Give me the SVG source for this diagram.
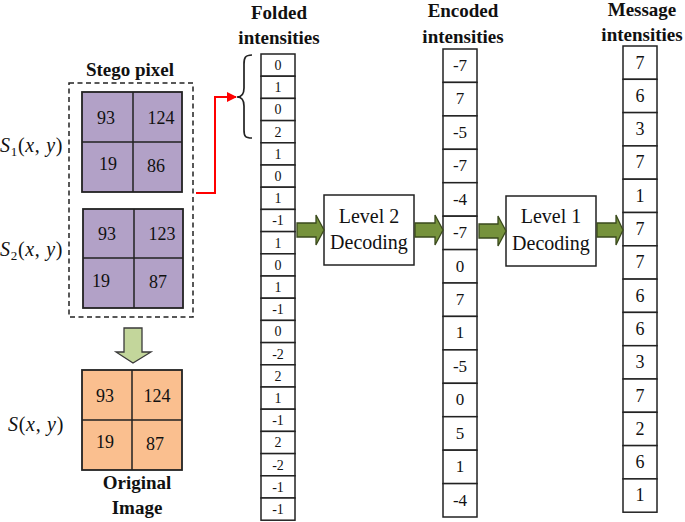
<svg xmlns="http://www.w3.org/2000/svg" width="685" height="522" viewBox="0 0 685 522" font-family="'Liberation Serif', 'DejaVu Serif', serif">
<style>
text{font-family:'Liberation Serif','DejaVu Serif',serif;fill:#111}
.title{font-weight:bold;font-size:19px;text-anchor:middle}
.num{font-size:18px;text-anchor:middle}
.f{font-size:14px;text-anchor:middle}
.e{font-size:17px;text-anchor:middle}
.m{font-size:18px;text-anchor:middle}
.box{font-size:20px;text-anchor:middle}
.math{font-size:20px;letter-spacing:0.7px}
.it{font-style:italic}
.cell{fill:#fff;stroke:#222;stroke-width:1.5}
.pur{fill:#b2a1c7;stroke:#222;stroke-width:1.8}
.org{fill:#fabf8f;stroke:#222;stroke-width:1.8}
.grid{stroke:#222;stroke-width:1.5;fill:none}
.garrow{fill:#76923c;stroke:#3a4a1c;stroke-width:1.3}
</style>
<defs>
<marker id="redhead" viewBox="0 0 10 10" refX="9" refY="5" markerWidth="10" markerHeight="10" markerUnits="userSpaceOnUse" orient="auto">
<path d="M0,0 L10,5 L0,10 Z" fill="#ff0000"/>
</marker>
</defs>

<g id="stego">
<text class="title" x="130" y="76">Stego pixel</text>
<rect x="69" y="83" width="124" height="234" fill="none" stroke="#222" stroke-width="1.5" stroke-dasharray="5,3.5"/>
</g>

<g id="s1">
<text class="math" x="0" y="152"><tspan class="it">S</tspan><tspan font-size="13" dy="4">1</tspan><tspan dy="-4">(</tspan><tspan class="it">x</tspan>, <tspan class="it">y</tspan>)</text>
<rect class="pur" x="82" y="92" width="100" height="100"/>
<path class="grid" d="M133,92 V192 M82,142 H182"/>
<text class="num" x="106" y="124">93</text>
<text class="num" x="161" y="124">124</text>
<text class="num" x="108" y="170">19</text>
<text class="num" x="156" y="172">86</text>
</g>

<g id="s2">
<text class="math" x="0" y="256"><tspan class="it">S</tspan><tspan font-size="13" dy="4">2</tspan><tspan dy="-4">(</tspan><tspan class="it">x</tspan>, <tspan class="it">y</tspan>)</text>
<rect class="pur" x="83" y="209" width="100" height="99"/>
<path class="grid" d="M134,209 V308 M83,258 H183"/>
<text class="num" x="107" y="240">93</text>
<text class="num" x="162" y="240">123</text>
<text class="num" x="101" y="287">19</text>
<text class="num" x="158" y="288">87</text>
</g>

<g id="original">
<text class="math" x="8" y="431" letter-spacing="1.2"><tspan class="it">S</tspan>(<tspan class="it">x</tspan>, <tspan class="it">y</tspan>)</text>
<rect class="org" x="82" y="370" width="100" height="100"/>
<path class="grid" d="M132,370 V470 M82,420 H182"/>
<text class="num" x="105" y="402">93</text>
<text class="num" x="157" y="402">124</text>
<text class="num" x="105" y="448">19</text>
<text class="num" x="155" y="450">87</text>
<text class="title" x="137" y="489">Original</text>
<text class="title" x="137" y="514">Image</text>
</g>

<g id="folded">
<text class="title" x="279" y="19">Folded</text>
<text class="title" x="279" y="44">intensities</text>
<g>
<rect class="cell" x="261" y="54" width="34" height="22.2"/><text class="f" x="278" y="70">0</text>
<rect class="cell" x="261" y="76.2" width="34" height="22.2"/><text class="f" x="278" y="92.2">1</text>
<rect class="cell" x="261" y="98.4" width="34" height="22.2"/><text class="f" x="278" y="114.4">0</text>
<rect class="cell" x="261" y="120.6" width="34" height="22.2"/><text class="f" x="278" y="136.6">2</text>
<rect class="cell" x="261" y="142.8" width="34" height="22.2"/><text class="f" x="278" y="158.8">1</text>
<rect class="cell" x="261" y="165" width="34" height="22.2"/><text class="f" x="278" y="181">0</text>
<rect class="cell" x="261" y="187.2" width="34" height="22.2"/><text class="f" x="278" y="203.2">1</text>
<rect class="cell" x="261" y="209.4" width="34" height="22.2"/><text class="f" x="278" y="225.4">-1</text>
<rect class="cell" x="261" y="231.6" width="34" height="22.2"/><text class="f" x="278" y="247.6">1</text>
<rect class="cell" x="261" y="253.8" width="34" height="22.2"/><text class="f" x="278" y="269.8">0</text>
<rect class="cell" x="261" y="276" width="34" height="22.2"/><text class="f" x="278" y="292">1</text>
<rect class="cell" x="261" y="298.2" width="34" height="22.2"/><text class="f" x="278" y="314.2">-1</text>
<rect class="cell" x="261" y="320.4" width="34" height="22.2"/><text class="f" x="278" y="336.4">0</text>
<rect class="cell" x="261" y="342.6" width="34" height="22.2"/><text class="f" x="278" y="358.6">-2</text>
<rect class="cell" x="261" y="364.8" width="34" height="22.2"/><text class="f" x="278" y="380.8">2</text>
<rect class="cell" x="261" y="387" width="34" height="22.2"/><text class="f" x="278" y="403">1</text>
<rect class="cell" x="261" y="409.2" width="34" height="22.2"/><text class="f" x="278" y="425.2">-1</text>
<rect class="cell" x="261" y="431.4" width="34" height="22.2"/><text class="f" x="278" y="447.4">2</text>
<rect class="cell" x="261" y="453.6" width="34" height="22.2"/><text class="f" x="278" y="469.6">-2</text>
<rect class="cell" x="261" y="475.8" width="34" height="22.2"/><text class="f" x="278" y="491.8">-1</text>
<rect class="cell" x="261" y="498" width="34" height="22.2"/><text class="f" x="278" y="514">-1</text>
</g>
<path d="M252,55 C245,55 244,58 244,64 L244,88 C244,94 242,97 237,97 C242,97 244,100 244,106 L244,130 C244,136 245,138 252,138" fill="none" stroke="#222" stroke-width="1.7"/>
</g>

<g id="level2">
<rect x="324" y="195" width="90" height="70" fill="#fff" stroke="#222" stroke-width="1.5"/>
<text class="box" x="369" y="223">Level 2</text>
<text class="box" x="369" y="249">Decoding</text>
</g>

<g id="encoded">
<text class="title" x="463" y="17">Encoded</text>
<text class="title" x="463" y="43">intensities</text>
<rect class="cell" x="443" y="49" width="34" height="33.4"/><text class="e" x="460" y="71">-7</text>
<rect class="cell" x="443" y="82.4" width="34" height="33.4"/><text class="e" x="460" y="104.4">7</text>
<rect class="cell" x="443" y="115.9" width="34" height="33.4"/><text class="e" x="460" y="137.9">-5</text>
<rect class="cell" x="443" y="149.3" width="34" height="33.4"/><text class="e" x="460" y="171.3">-7</text>
<rect class="cell" x="443" y="182.7" width="34" height="33.4"/><text class="e" x="460" y="204.7">-4</text>
<rect class="cell" x="443" y="216.2" width="34" height="33.4"/><text class="e" x="460" y="238.2">-7</text>
<rect class="cell" x="443" y="249.6" width="34" height="33.4"/><text class="e" x="460" y="271.6">0</text>
<rect class="cell" x="443" y="283" width="34" height="33.4"/><text class="e" x="460" y="305">7</text>
<rect class="cell" x="443" y="316.4" width="34" height="33.4"/><text class="e" x="460" y="338.4">1</text>
<rect class="cell" x="443" y="349.9" width="34" height="33.4"/><text class="e" x="460" y="371.9">-5</text>
<rect class="cell" x="443" y="383.3" width="34" height="33.4"/><text class="e" x="460" y="405.3">0</text>
<rect class="cell" x="443" y="416.7" width="34" height="33.4"/><text class="e" x="460" y="438.7">5</text>
<rect class="cell" x="443" y="450.2" width="34" height="33.4"/><text class="e" x="460" y="472.2">1</text>
<rect class="cell" x="443" y="483.6" width="34" height="33.4"/><text class="e" x="460" y="505.6">-4</text>
</g>

<g id="level1">
<rect x="506" y="196" width="90" height="70" fill="#fff" stroke="#222" stroke-width="1.5"/>
<text class="box" x="551" y="223">Level 1</text>
<text class="box" x="551" y="250">Decoding</text>
</g>

<g id="message">
<text class="title" x="642" y="16">Message</text>
<text class="title" x="642" y="41">intensities</text>
<rect class="cell" x="623" y="46" width="34" height="33.3"/><text class="m" x="640" y="68.5">7</text>
<rect class="cell" x="623" y="79.3" width="34" height="33.3"/><text class="m" x="640" y="101.8">6</text>
<rect class="cell" x="623" y="112.6" width="34" height="33.3"/><text class="m" x="640" y="135.1">3</text>
<rect class="cell" x="623" y="145.9" width="34" height="33.3"/><text class="m" x="640" y="168.4">7</text>
<rect class="cell" x="623" y="179.2" width="34" height="33.3"/><text class="m" x="640" y="201.7">1</text>
<rect class="cell" x="623" y="212.5" width="34" height="33.3"/><text class="m" x="640" y="235">7</text>
<rect class="cell" x="623" y="245.8" width="34" height="33.3"/><text class="m" x="640" y="268.3">7</text>
<rect class="cell" x="623" y="279.1" width="34" height="33.3"/><text class="m" x="640" y="301.6">6</text>
<rect class="cell" x="623" y="312.4" width="34" height="33.3"/><text class="m" x="640" y="334.9">6</text>
<rect class="cell" x="623" y="345.7" width="34" height="33.3"/><text class="m" x="640" y="368.2">3</text>
<rect class="cell" x="623" y="379" width="34" height="33.3"/><text class="m" x="640" y="401.5">7</text>
<rect class="cell" x="623" y="412.3" width="34" height="33.3"/><text class="m" x="640" y="434.8">2</text>
<rect class="cell" x="623" y="445.6" width="34" height="33.3"/><text class="m" x="640" y="468.1">6</text>
<rect class="cell" x="623" y="478.9" width="34" height="33.3"/><text class="m" x="640" y="501.4">1</text>
</g>

<g id="connectors">
<polyline points="196,193 215,193 215,97 236,97" fill="none" stroke="#ff0000" stroke-width="2" marker-end="url(#redhead)"/>
<path d="M124,328 H142 V352 H151 L133,363 L116,352 H124 Z" fill="#c3d69b" stroke="#3a3a3a" stroke-width="1.3"/>
<path class="garrow" d="M297,223 H316 V215 L324,230 L316,245 V237 H297 Z"/>
<path class="garrow" d="M415,223 H435 V215 L443,230 L435,245 V237 H415 Z"/>
<path class="garrow" d="M479,224 H498 V216 L506,231 L498,246 V238 H479 Z"/>
<path class="garrow" d="M597,223 H616 V215 L623,230 L616,245 V237 H597 Z"/>
</g>
</svg>
